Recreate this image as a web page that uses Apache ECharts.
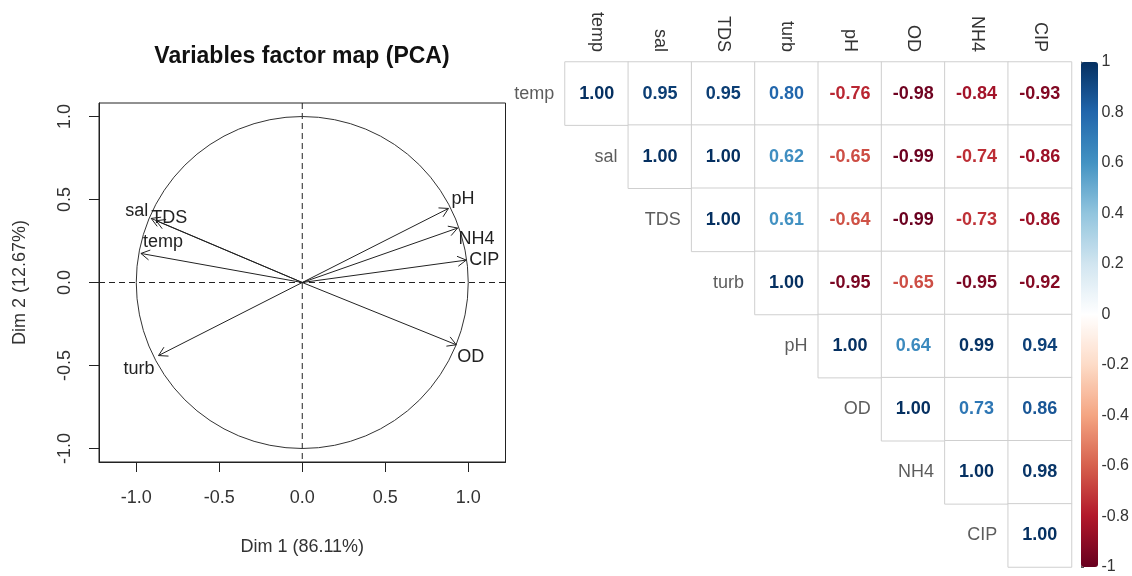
<!DOCTYPE html>
<html>
<head>
<meta charset="utf-8">
<script src="https://cdn.jsdelivr.net/npm/echarts@6/dist/echarts.min.js"></script>
<style>
  html, body { margin: 0; padding: 0; background: #fff; }
  #chart { width: 1132px; height: 576px; }
</style>
</head>
<body>
<div id="chart"></div>
<script>
// PCA variable coordinates
const pcaVars = [ 'temp', 'sal', 'TDS', 'turb', 'pH', 'OD', 'NH4', 'CIP' ];
const dim1 = [ -0.972, -0.910, -0.880, -0.866, 0.881, 0.928, 0.936, 0.988 ];
const dim2 = [ 0.175, 0.386, 0.372, -0.440, 0.446, -0.375, 0.328, 0.135 ];
const pcaTicks = [ -1, -0.5, 0, 0.5, 1 ];

// correlation matrix, upper triangle, row by row
const corrVars = [ 'temp', 'sal', 'TDS', 'turb', 'pH', 'OD', 'NH4', 'CIP' ];
const corrTemp = [ 1.00, 0.95, 0.95, 0.80, -0.76, -0.98, -0.84, -0.93 ];
const corrSal = [ 1.00, 1.00, 0.62, -0.65, -0.99, -0.74, -0.86 ];
const corrTDS = [ 1.00, 0.61, -0.64, -0.99, -0.73, -0.86 ];
const corrTurb = [ 1.00, -0.95, -0.65, -0.95, -0.92 ];
const corrPH = [ 1.00, 0.64, 0.99, 0.94 ];
const corrOD = [ 1.00, 0.73, 0.86 ];
const corrNH4 = [ 1.00, 0.98 ];
const corrCIP = [ 1.00 ];
const corrRows = [ corrTemp, corrSal, corrTDS, corrTurb, corrPH, corrOD, corrNH4, corrCIP ];

const rdbu = [ '#67001F', '#B2182B', '#D6604D', '#F4A582', '#FDDBC7', '#FFFFFF',
	'#D1E5F0', '#92C5DE', '#4393C3', '#2166AC', '#053061' ];

const FONT = '"Liberation Sans", Arial, sans-serif';
const TXT = '#333';

// label placement next to the arrow tips: [dx, dy, align]
const labelPlace = {
	temp: [ 2, -11, 'left' ],
	sal: [ -3, -7, 'right' ],
	TDS: [ -5, -3, 'left' ],
	turb: [ -4, 13, 'right' ],
	pH: [ 3, -9, 'left' ],
	OD: [ 1, 12, 'left' ],
	NH4: [ 1, 11, 'left' ],
	CIP: [ 3, 0, 'left' ]
};

const xLim = 1.2245;
const yLim = 1.081;

const arrowData = pcaVars.map( ( name, i ) => [ dim1[ i ], dim2[ i ], i ] );

const heatData = [];
corrRows.forEach( ( row, i ) => {
	row.forEach( ( v, k ) => {
		const j = i + k;
		heatData.push( {
			value: [ j, i, v ],
			label: { color: echarts.color.lerp( ( v + 1 ) / 2, rdbu ) }
		} );
	} );
} );

const chart = echarts.init( document.getElementById( 'chart' ), null, { renderer: 'canvas' } );

const option = {
	animation: false,
	textStyle: { fontFamily: FONT },
	title: {
		text: 'Variables factor map (PCA)',
		left: 302,
		textAlign: 'center',
		top: 45,
		padding: 0,
		textStyle: { fontSize: 23, fontWeight: 'bold', color: '#111', fontFamily: FONT }
	},
	grid: [
		{ left: 99, top: 103, width: 406.5, height: 359, show: true, borderColor: '#222', borderWidth: 1 },
		{ left: 565, top: 62, width: 506.5, height: 505 },
		{ left: 1081, top: 62, width: 17, height: 505 }
	],
	xAxis: [
		{
			gridIndex: 0, type: 'value', min: -xLim, max: xLim,
			name: 'Dim 1 (86.11%)', nameLocation: 'middle', nameGap: 76,
			nameTextStyle: { fontSize: 18, color: TXT },
			axisLine: { show: true, onZero: false, lineStyle: { color: '#222' } },
			axisTick: { show: true, customValues: pcaTicks, length: 10, lineStyle: { color: '#222' } },
			axisLabel: { customValues: pcaTicks, fontSize: 18, color: TXT, margin: 27,
				formatter: ( v ) => v.toFixed( 1 ) },
			splitLine: { show: false }
		},
		{
			gridIndex: 1, type: 'category', data: corrVars, position: 'top',
			axisLine: { show: false }, axisTick: { show: false },
			axisLabel: { rotate: 90, fontSize: 18, color: TXT, margin: 10, interval: 0 },
			splitLine: { show: false }
		},
		{ gridIndex: 2, type: 'value', min: 0, max: 1, show: false }
	],
	yAxis: [
		{
			gridIndex: 0, type: 'value', min: -yLim, max: yLim,
			name: 'Dim 2 (12.67%)', nameLocation: 'middle', nameGap: 70,
			nameTextStyle: { fontSize: 18, color: TXT },
			axisLine: { show: true, onZero: false, lineStyle: { color: '#222' } },
			axisTick: { show: true, customValues: pcaTicks, length: 10, lineStyle: { color: '#222' } },
			axisLabel: { customValues: pcaTicks, fontSize: 18, color: TXT, margin: 25, rotate: 90,
				formatter: ( v ) => v.toFixed( 1 ) },
			splitLine: { show: false }
		},
		{
			gridIndex: 1, type: 'category', data: corrVars, inverse: true,
			axisLine: { show: false }, axisTick: { show: false }, axisLabel: { show: false },
			splitLine: { show: false }
		},
		{
			gridIndex: 2, type: 'value', min: -1, max: 1, interval: 0.2, position: 'right',
			axisLine: { show: true, lineStyle: { color: '#555' } },
			axisTick: { show: true, length: 3, lineStyle: { color: '#555' } },
			axisLabel: { fontSize: 16, color: TXT, margin: 7,
				formatter: ( v ) => String( Math.round( v * 10 ) / 10 ) },
			splitLine: { show: false }
		}
	],
	visualMap: {
		type: 'continuous',
		min: -1,
		max: 1,
		seriesIndex: 4,
		orient: 'vertical',
		left: 1081,
		top: 62,
		padding: 0,
		itemWidth: 17,
		itemHeight: 505,
		calculable: false,
		inRange: { color: rdbu }
	},
	series: [
		{
			// unit circle and dashed zero lines
			type: 'custom',
			xAxisIndex: 0,
			yAxisIndex: 0,
			silent: true,
			data: [ [ 0, 0 ] ],
			renderItem: function ( params, api ) {
				const c = api.coord( [ 0, 0 ] );
				const r = api.size( [ 1, 1 ] )[ 0 ];
				const l = api.coord( [ -xLim, 0 ] );
				const rt = api.coord( [ xLim, 0 ] );
				const t = api.coord( [ 0, yLim ] );
				const b = api.coord( [ 0, -yLim ] );
				const dash = { stroke: '#222', lineWidth: 1, lineDash: [ 6, 4 ] };
				return {
					type: 'group',
					children: [
						{ type: 'line', shape: { x1: l[ 0 ], y1: l[ 1 ], x2: rt[ 0 ], y2: rt[ 1 ] }, style: dash },
						{ type: 'line', shape: { x1: t[ 0 ], y1: t[ 1 ], x2: b[ 0 ], y2: b[ 1 ] }, style: dash },
						{ type: 'circle', shape: { cx: c[ 0 ], cy: c[ 1 ], r: r },
							style: { fill: 'none', stroke: '#333', lineWidth: 1 } }
					]
				};
			}
		},
		{
			// variable arrows with open heads
			type: 'custom',
			xAxisIndex: 0,
			yAxisIndex: 0,
			silent: true,
			data: arrowData,
			renderItem: function ( params, api ) {
				const o = api.coord( [ 0, 0 ] );
				const p = api.coord( [ api.value( 0 ), api.value( 1 ) ] );
				const name = pcaVars[ api.value( 2 ) ];
				const ang = Math.atan2( p[ 1 ] - o[ 1 ], p[ 0 ] - o[ 0 ] );
				const hl = 10;
				const h1 = [ p[ 0 ] - hl * Math.cos( ang - Math.PI / 6 ), p[ 1 ] - hl * Math.sin( ang - Math.PI / 6 ) ];
				const h2 = [ p[ 0 ] - hl * Math.cos( ang + Math.PI / 6 ), p[ 1 ] - hl * Math.sin( ang + Math.PI / 6 ) ];
				const place = labelPlace[ name ];
				const stroke = { stroke: '#222', lineWidth: 1, fill: 'none' };
				return {
					type: 'group',
					children: [
						{ type: 'line', shape: { x1: o[ 0 ], y1: o[ 1 ], x2: p[ 0 ], y2: p[ 1 ] }, style: stroke },
						{ type: 'polyline', shape: { points: [ h1, p, h2 ] }, style: stroke },
						{
							type: 'text',
							x: p[ 0 ] + place[ 0 ],
							y: p[ 1 ] + place[ 1 ],
							style: {
								text: name, fill: '#222', font: '18px ' + FONT,
								textAlign: place[ 2 ], textVerticalAlign: 'middle'
							}
						}
					]
				};
			}
		},
		{
			// correlation cells with coloured numbers
			type: 'heatmap',
			xAxisIndex: 1,
			yAxisIndex: 1,
			data: heatData,
			itemStyle: { color: '#fff', borderColor: '#cfcfcf', borderWidth: 1 },
			label: {
				show: true,
				fontSize: 18,
				fontWeight: 'bold',
				fontFamily: FONT,
				formatter: ( p ) => p.value[ 2 ].toFixed( 2 )
			},
			emphasis: { disabled: true }
		},
		{
			// row names sitting left of the diagonal
			type: 'scatter',
			xAxisIndex: 1,
			yAxisIndex: 1,
			symbolSize: 1,
			itemStyle: { color: 'rgba(0,0,0,0)' },
			data: corrVars.map( ( n, i ) => [ i, i ] ),
			label: {
				show: true,
				position: 'left',
				distance: 42,
				fontSize: 18,
				color: TXT,
				formatter: ( p ) => corrVars[ p.dataIndex ]
			},
			silent: true
		},
		{
			// empty series for the colour bar
			type: 'scatter',
			xAxisIndex: 2,
			yAxisIndex: 2,
			data: []
		}
	]
};

chart.setOption( option );
</script>
</body>
</html>
